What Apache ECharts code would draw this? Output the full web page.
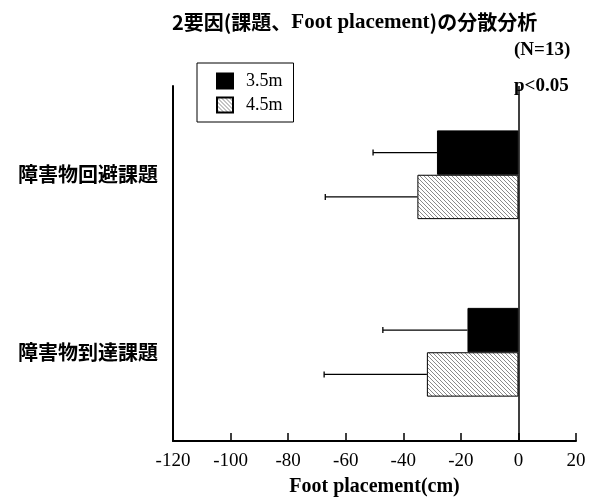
<!DOCTYPE html>
<html><head><meta charset="utf-8">
<script src="https://cdn.jsdelivr.net/npm/echarts@6/dist/echarts.min.js"></script>
<style>html,body{margin:0;padding:0;background:#fff}#c{width:594px;height:502px}</style>
</head><body><div id="c"></div>
<script>
var categories = ['障害物回避課題', '障害物到達課題'];
var seriesNames = ['3.5m', '4.5m'];
var values35 = [-28.3, -17.7];
var values45 = [-35.1, -31.8];
var err35 = [22.2, 29.4];
var err45 = [32.0, 35.7];
var xTicks = [-120, 20, 20]; // min, max, interval

var cjk = '"Noto Sans CJK JP", "Noto Sans", sans-serif';
var serif = '"Liberation Serif", "DejaVu Serif", serif';

function hatch() {
  var s = 4, c = document.createElement('canvas');
  c.width = s; c.height = s;
  var ctx = c.getContext('2d');
  ctx.fillStyle = '#fff'; ctx.fillRect(0, 0, s, s);
  ctx.strokeStyle = '#8a8a8a'; ctx.lineWidth = 1;
  ctx.beginPath();
  ctx.moveTo(0, 0); ctx.lineTo(s, s);
  ctx.moveTo(-1, s - 1); ctx.lineTo(1, s + 1);
  ctx.moveTo(s - 1, -1); ctx.lineTo(s + 1, 1);
  ctx.stroke();
  return c;
}
var hatchColor = { image: hatch(), repeat: 'repeat' };

function errData(vals, errs) {
  return vals.map(function (v, i) { return [i, v, errs[i]]; });
}
function errRender(sign) {
  return function (params, api) {
    var ci = api.value(0), v = api.value(1), e = api.value(2);
    var band = api.size([0, 1])[1];
    var p0 = api.coord([v, ci]);
    var p1 = api.coord([v - e, ci]);
    var y = p0[1] + sign * band / 8;
    var st = { stroke: '#000', lineWidth: 1.3 };
    return {
      type: 'group',
      children: [
        { type: 'line', shape: { x1: p0[0], y1: y, x2: p1[0], y2: y }, style: st },
        { type: 'line', shape: { x1: p1[0], y1: y - 3, x2: p1[0], y2: y + 3 }, style: st }
      ]
    };
  };
}

var chart = echarts.init(document.getElementById('c'), null, { renderer: 'canvas' });
chart.setOption({
  animation: false,
  backgroundColor: '#fff',
  title: {
    left: 167, top: 7,
    text: '{a|2要因(課題、}{b|Foot placement}{a|)の分散分析}',
    textStyle: {
      rich: {
        a: { fontFamily: cjk, fontWeight: 'bold', fontSize: 20, color: '#000' },
        b: { fontFamily: serif, fontWeight: 'bold', fontSize: 21, color: '#000' }
      }
    }
  },
  graphic: [
    { type: 'text', left: 514, top: 41, style: { text: '(N=13)', font: 'bold 19px "Liberation Serif", serif', fill: '#000' } },
    { type: 'text', left: 514, top: 77, style: { text: 'p<0.05', font: 'bold 19px "Liberation Serif", serif', fill: '#000' } }
  ],
  legend: {
    left: 197, top: 63,
    orient: 'vertical',
    data: seriesNames,
    itemWidth: 16, itemHeight: 15, itemGap: 6,
    padding: [9, 11, 8, 19],
    borderColor: '#000', borderWidth: 1,
    icon: 'rect',
    textStyle: { fontFamily: serif, fontSize: 18, color: '#000', padding: [0, 0, 0, 8] }
  },
  grid: { left: 173, right: 18, top: 86, bottom: 61, outerBoundsMode: 'none' },
  xAxis: {
    type: 'value', min: xTicks[0], max: xTicks[1], interval: xTicks[2],
    name: 'Foot placement(cm)', nameLocation: 'middle', nameGap: 36,
    nameTextStyle: { fontFamily: serif, fontWeight: 'bold', fontSize: 20, color: '#000' },
    axisLine: { show: true, lineStyle: { color: '#000', width: 2 } },
    axisTick: { show: true, inside: true, length: 8, lineStyle: { color: '#000', width: 1.5 } },
    axisLabel: { fontFamily: serif, fontSize: 19, color: '#000', margin: 11 },
    splitLine: { show: false }
  },
  yAxis: {
    type: 'category', data: categories, inverse: true,
    axisLine: { show: true, onZero: false, lineStyle: { color: '#000', width: 2 } },
    axisTick: { show: false },
    axisLabel: { fontFamily: cjk, fontWeight: 'bold', fontSize: 20, color: '#000', margin: 15 }
  },
  series: [
    {
      name: seriesNames[0], type: 'bar', data: values35,
      barGap: '0%', barCategoryGap: '50%',
      itemStyle: { color: '#000', borderColor: '#000', borderWidth: 1 },
      markLine: {
        silent: true, symbol: 'none', label: { show: false },
        lineStyle: { color: '#000', type: 'solid', width: 1.5 },
        data: [{ xAxis: 0 }]
      },
      z: 2
    },
    {
      name: seriesNames[1], type: 'bar', data: values45,
      barGap: '0%', barCategoryGap: '50%',
      itemStyle: { color: hatchColor, borderColor: '#000', borderWidth: 1 },
      z: 2
    },
    {
      type: 'custom', data: errData(values35, err35),
      encode: { x: 1, y: 0 }, renderItem: errRender(-1), z: 1, silent: true
    },
    {
      type: 'custom', data: errData(values45, err45),
      encode: { x: 1, y: 0 }, renderItem: errRender(1), z: 1, silent: true
    }
  ]
});
</script>
</body></html>
